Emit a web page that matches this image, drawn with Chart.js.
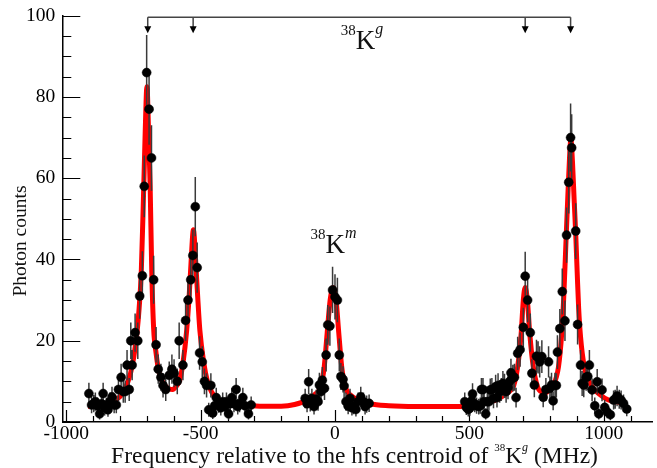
<!DOCTYPE html>
<html>
<head>
<meta charset="utf-8">
<script src="https://cdn.jsdelivr.net/npm/chart.js@4.4.0/dist/chart.umd.min.js"></script>
<style>
html, body { margin: 0; padding: 0; background: #fff; }
canvas { display: block; }
</style>
</head>
<body>
<canvas id="myCanvas" width="657" height="468"></canvas>
<script>
const CANVAS_WIDTH = 657;
const CANVAS_HEIGHT = 468;
const FONT = "'Liberation Serif', 'Times New Roman', serif";

// measured photon counts vs frequency (MHz)
const freq = [
  -916, -906, -898, -892, -884, -876, -869, -863, -857, -851, -845, -838, -830, -822, -814, -806,
  -796, -788, -781, -774, -766, -760, -755, -744, -734, -727, -717, -710, -701, -692, -683, -675,
  -666, -658, -648, -640, -630, -617, -607, -599, -587, -580, -566, -556, -547, -537, -529, -520,
  -513, -504, -494, -486, -478, -470, -462, -455, -448, -442, -433, -425, -418, -410, -404, -396,
  -390, -384, -376, -368, -362, -355, -343, -335, -322, -312,
  -111, -104, -98, -92, -86, -78, -70, -63, -58, -52, -47, -39, -33, -27, -19, -9,
  0, 9, 16, 22, 30, 34, 41, 49, 56, 63, 69, 78, 86, 96, 106, 112, 118, 127,
  483, 489, 496, 502, 508, 512, 520, 527, 535, 541, 545, 551, 555, 561, 567, 573,
  578, 584, 590, 598, 603, 607, 613, 619, 625, 631, 637, 644, 650, 655, 662, 668,
  674, 680, 689, 701, 708, 717, 727, 733, 742, 750, 756, 762, 770, 775, 785, 795,
  800, 806, 812, 819, 824, 828, 837, 846, 856, 862, 870, 877, 881, 896, 903, 914,
  920, 926, 935, 941, 947, 957, 967, 976, 982, 994, 1004, 1013, 1025, 1037, 1043, 1050,
  1058, 1065, 1074, 1086
];
const counts = [
  7, 4.2, 4.5, 5, 4, 2, 4.5, 7, 3.5, 4, 3, 5, 6.2, 4.2, 4.2, 8,
  11, 7.5, 7.5, 14, 8, 20, 14, 22, 20, 31, 36, 58, 86, 77, 65, 35,
  19, 13, 11, 9, 8, 11.5, 13, 12, 10, 20, 14, 25, 30, 35, 41, 53,
  38, 17, 14.8, 10, 9, 3, 9, 2.2, 4, 6, 4.4, 3.5, 5, 3.8, 5, 2,
  4.5, 6, 4.5, 8, 3.8, 4.5, 6, 4, 2, 4.2,
  5.8, 4.5, 9.9, 4.8, 5.8, 3.8, 5.6, 5, 9.1, 7.5, 10.3, 8.3, 16.5, 23.9, 23.6, 32.5,
  30.8, 30, 16.5, 11.2, 10.5, 8.9, 5, 3.9, 5.8, 3.5, 3.9, 3.1, 5, 6.2, 5, 3.8, 4.4, 4.6,
  5, 3.6, 3.1, 3.4, 5.2, 6.9, 4.5, 4, 3.8, 4, 8, 8, 5, 2, 5, 5,
  7.9, 8, 5.8, 8.7, 6, 9, 7.5, 8, 9.5, 8.9, 7.5, 8.5, 10, 12.1, 10.8, 11,
  6, 16.9, 17.8, 23.3, 35.9, 30, 22, 12, 9.1, 16.2, 15.9, 14.8, 16.1, 6.1, 8, 14.8,
  8.3, 9.1, 5.2, 9.1, 9, 17.2, 23, 32.1, 24.9, 46, 59, 70, 67.5, 47, 24, 14,
  9.5, 9.1, 11, 11.2, 14, 7.9, 4, 9.9, 2, 7.9, 3.6, 2.5, 1.8, 5.4, 5.6, 6.4,
  5.6, 5.4, 4.6, 3.2
];

// red fit curve
const fitFreq = [
  -920, -880, -845, -820, -800, -783, -761, -749, -737, -729, -721, -713, -707, -700, -694, -688,
  -682, -675, -666, -656, -645, -632, -618, -604, -591, -578, -566, -552, -543, -536, -527, -518,
  -511, -503, -488, -476, -460, -440, -420, -390, -340, -280, -200, -150, -103, -75, -53, -40,
  -29, -18, -7, 4, 14, 25, 38, 60, 90, 130, 200, 300, 400, 480, 540, 575,
  600, 630, 650, 664, 680, 693, 701, 708, 716, 725, 738, 754, 766, 779, 795, 810,
  832, 844, 851, 861, 867, 873, 878, 884, 890, 896, 902, 907, 914, 928, 957, 985,
  1018, 1050, 1086
];
const fitCounts = [
  3.9, 4.1, 4.6, 5.4, 6.3, 7.9, 12, 16, 22, 28, 37, 55, 70, 82.5, 72, 58,
  37, 23, 17, 12.6, 10.3, 8.9, 8.2, 8.0, 8.8, 10.3, 14.4, 22.6, 30.8, 39, 47.3, 39,
  30.8, 22.6, 14.4, 10.3, 7.5, 5.8, 5.0, 4.5, 4.1, 3.9, 3.9, 4.3, 5.4, 6.8, 8.7, 13.6,
  22, 30, 33.1, 30, 22, 13.6, 8.7, 6.5, 5.4, 4.5, 4.0, 3.8, 3.8, 3.9, 4.4, 5.0,
  5.4, 6.6, 7.6, 8.7, 13.6, 21.8, 30, 33.1, 30, 21.8, 13.6, 8.7, 7.5, 7.1, 7.6, 8.7,
  13.6, 21.8, 30, 46.4, 56, 65, 69.5, 64, 55, 46.4, 36, 28, 21, 13.6, 8.7, 6.8,
  5.4, 4.9, 4.6
];

const xTicks = [-1000, -500, 0, 500, 1000];
const yTicks = [0, 20, 40, 60, 80, 100];
const xMinorStep = 100;
const yMinorStep = 5;
// 38K^g hyperfine components marked at the top
const peakFreq = [-697, -528, 708, 877];
const bracketY = 99.6;
const arrowTipY = 95.7;

function setFont(ctx, size, italic) {
  ctx.font = (italic ? 'italic ' : '') + size + 'px ' + FONT;
}

// text with superscripts, drawn piece by piece
function drawRich(ctx, parts, x, y, align) {
  let w = 0;
  parts.forEach(function (p) {
    setFont(ctx, p.size, p.italic);
    p.w = ctx.measureText(p.t).width;
    w += p.w;
  });
  let cx = align === 'center' ? x - w / 2 : x;
  ctx.textAlign = 'left';
  parts.forEach(function (p) {
    setFont(ctx, p.size, p.italic);
    ctx.fillText(p.t, cx, y - (p.raise || 0));
    cx += p.w;
  });
}

const tickMarks = {
  id: 'tickMarks',
  beforeDatasetsDraw(chart) {
    const ctx = chart.ctx, area = chart.chartArea, sx = chart.scales.x, sy = chart.scales.y;
    ctx.save();
    ctx.strokeStyle = '#000';
    ctx.lineWidth = 1.2;
    ctx.beginPath();
    for (let v = xTicks[0]; v <= sx.max; v += xMinorStep) {
      const px = Math.round(sx.getPixelForValue(v)) + 0.5;
      const len = v % 500 === 0 ? 12 : 6;
      ctx.moveTo(px, area.bottom);
      ctx.lineTo(px, area.bottom - len);
    }
    for (let v = 0; v <= sy.max; v += yMinorStep) {
      const py = Math.round(sy.getPixelForValue(v)) + 0.5;
      const len = v % 20 === 0 ? 18 : 9;
      ctx.moveTo(area.left, py);
      ctx.lineTo(area.left + len, py);
    }
    ctx.stroke();
    ctx.restore();
  }
};

const errorBars = {
  id: 'errorBars',
  beforeDatasetDraw(chart, args) {
    if (args.index !== 0) return;
    const ctx = chart.ctx, sx = chart.scales.x, sy = chart.scales.y;
    ctx.save();
    ctx.strokeStyle = '#3a3a3a';
    ctx.lineWidth = 1.5;
    ctx.beginPath();
    for (let i = 0; i < freq.length; i++) {
      const e = Math.sqrt(counts[i]); // poisson error
      const px = sx.getPixelForValue(freq[i]);
      ctx.moveTo(px, sy.getPixelForValue(counts[i] + e));
      ctx.lineTo(px, sy.getPixelForValue(Math.max(0, counts[i] - e)));
    }
    ctx.stroke();
    ctx.restore();
  }
};

const annotations = {
  id: 'annotations',
  afterDraw(chart) {
    const ctx = chart.ctx, sx = chart.scales.x, sy = chart.scales.y;
    ctx.save();
    // bracket with arrows
    const by = sy.getPixelForValue(bracketY);
    const ty = sy.getPixelForValue(arrowTipY);
    ctx.strokeStyle = '#444';
    ctx.lineWidth = 1.5;
    ctx.beginPath();
    ctx.moveTo(sx.getPixelForValue(peakFreq[0]), by);
    ctx.lineTo(sx.getPixelForValue(peakFreq[peakFreq.length - 1]), by);
    peakFreq.forEach(function (f) {
      const px = sx.getPixelForValue(f);
      ctx.moveTo(px, by);
      ctx.lineTo(px, ty - 6);
    });
    ctx.stroke();
    ctx.fillStyle = '#000';
    peakFreq.forEach(function (f) {
      const px = sx.getPixelForValue(f);
      ctx.beginPath();
      ctx.moveTo(px - 3.5, ty - 7);
      ctx.lineTo(px + 3.5, ty - 7);
      ctx.lineTo(px, ty);
      ctx.closePath();
      ctx.fill();
    });

    ctx.fillStyle = '#111';
    ctx.textBaseline = 'alphabetic';
    drawRich(ctx, [
      { t: '38', size: 15, raise: 14 },
      { t: 'K', size: 27 },
      { t: 'g', size: 16, italic: true, raise: 15 }
    ], sx.getPixelForValue(21), sy.getPixelForValue(91.7), 'left');
    drawRich(ctx, [
      { t: '38', size: 15, raise: 14 },
      { t: 'K', size: 27 },
      { t: 'm', size: 16, italic: true, raise: 15 }
    ], sx.getPixelForValue(-91), sy.getPixelForValue(41.5), 'left');

    // axis titles
    drawRich(ctx, [
      { t: 'Frequency relative to the hfs centroid of ', size: 23.5 },
      { t: '38', size: 11, raise: 12 },
      { t: 'K', size: 23.5 },
      { t: 'g', size: 12, italic: true, raise: 12 },
      { t: ' (MHz)', size: 23.5 }
    ], 354.5, 462.5, 'center');

    ctx.translate(21, 241);
    ctx.rotate(-Math.PI / 2);
    ctx.textAlign = 'center';
    ctx.textBaseline = 'middle';
    setFont(ctx, 19.5, false);
    ctx.fillText('Photon counts', 0, 0);
    ctx.restore();
  }
};

const points = freq.map(function (f, i) { return { x: f, y: counts[i] }; });
const fit = fitFreq.map(function (f, i) { return { x: f, y: fitCounts[i] }; });

const ctx = document.getElementById('myCanvas').getContext('2d');
const chart = new Chart(ctx, {
  type: 'scatter',
  data: {
    datasets: [{
      data: points,
      order: 0,
      pointRadius: 4.5,
      pointBackgroundColor: '#000',
      pointBorderColor: '#000',
      pointBorderWidth: 0.5
    }, {
      data: fit,
      order: 1,
      showLine: true,
      borderColor: '#ff0000',
      borderWidth: 5,
      pointRadius: 0,
      cubicInterpolationMode: 'monotone',
      fill: false
    }]
  },
  options: {
    responsive: false,
    animation: false,
    devicePixelRatio: 1,
    layout: { padding: { top: 15.7, left: 0, right: 0, bottom: 0 } },
    plugins: { legend: { display: false }, tooltip: { enabled: false } },
    scales: {
      x: {
        type: 'linear',
        min: -1015,
        max: 1180,
        afterBuildTicks: function (s) { s.ticks = xTicks.map(function (v) { return { value: v }; }); },
        afterFit: function (s) { s.height = CANVAS_HEIGHT - 422; },
        grid: { display: false, drawTicks: false },
        border: { display: true, color: '#000', width: 1.5 },
        ticks: {
          color: '#000',
          padding: 0,
          maxRotation: 0,
          font: { family: FONT, size: 19.5 },
          callback: function (v) { return String(v); }
        }
      },
      y: {
        type: 'linear',
        min: 0,
        max: 100,
        afterBuildTicks: function (s) { s.ticks = yTicks.map(function (v) { return { value: v }; }); },
        afterFit: function (s) { s.width = 62.3; },
        grid: { display: false, drawTicks: false },
        border: { display: true, color: '#000', width: 1.5 },
        ticks: {
          color: '#000',
          padding: 7,
          font: { family: FONT, size: 19.5, lineHeight: 0.8 },
          callback: function (v) { return String(v); }
        }
      }
    }
  },
  plugins: [tickMarks, errorBars, annotations]
});
</script>
</body>
</html>
